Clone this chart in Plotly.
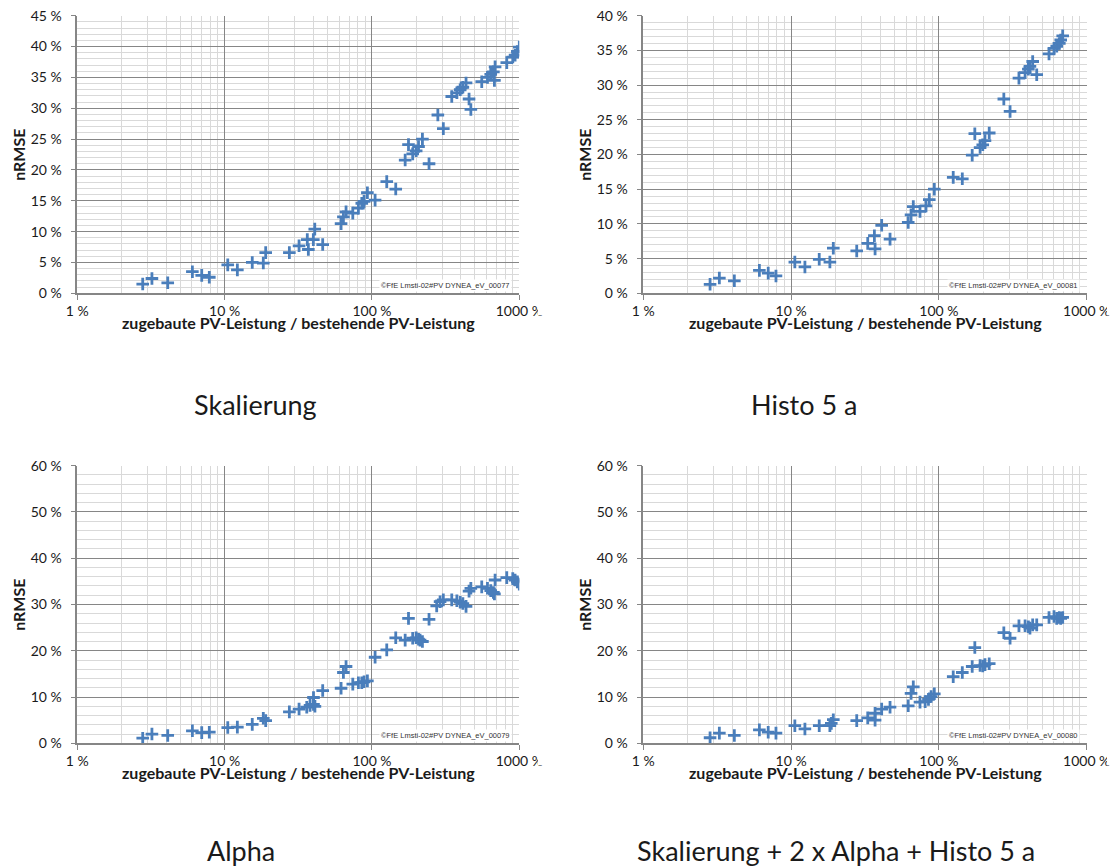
import plotly.graph_objects as go

# ---- data: nRMSE vs. added / existing PV capacity (both in %) ----
skal_x = [2.78, 3.21, 4.11, 6.04, 6.99, 7.87, 10.5, 12.2, 15.4, 18.3, 19.0, 27.5, 32.0,
          37.0, 36.4, 40.0, 40.9, 46.3, 61.7, 64.0, 66.7, 74.1, 80.9, 85.3, 88.4, 93.1,
          105, 126, 145, 168, 177, 189, 199.5, 207, 220, 244, 280, 305, 348, 377, 397,
          414, 435, 456, 469, 556, 608, 640, 667, 685, 678, 822, 903, 936, 970, 1000]
skal_y = [1.5, 2.4, 1.7, 3.5, 2.9, 2.6, 4.6, 3.8, 5.0, 4.9, 6.6, 6.6, 7.7,
          7.1, 8.7, 8.7, 10.4, 7.9, 11.3, 12.4, 13.2, 13.0, 13.8, 14.6, 14.9, 16.3,
          15.1, 18.1, 16.9, 21.6, 24.1, 22.6, 23.1, 23.8, 25.0, 21.0, 28.9, 26.7, 31.9, 32.5, 33.0,
          33.4, 34.1, 31.5, 29.8, 34.3, 35.0, 35.5, 35.9, 36.7, 34.5, 37.4, 38.3, 38.6, 39.2, 39.9]

histo_x = [2.83, 3.27, 4.13, 6.1, 7.0, 7.9, 10.6, 12.4, 15.5, 18.3, 19.3, 27.8, 33.0,
           36.6, 37.0, 41.0, 46.7, 62.0, 64.8, 67.1, 74.5, 81.8, 86.1, 93.1,
           125, 144, 168, 175, 190, 198, 205, 219, 275, 303, 348, 383, 403, 413, 431,
           459, 556, 601, 627, 653, 667, 688]
histo_y = [1.3, 2.2, 1.8, 3.3, 2.9, 2.5, 4.5, 3.8, 4.9, 4.5, 6.5, 6.1, 7.2,
           8.3, 6.4, 9.8, 7.8, 10.2, 11.3, 12.5, 11.8, 12.6, 13.5, 15.0,
           16.7, 16.5, 19.9, 23.0, 21.0, 21.4, 22.0, 23.1, 28.0, 26.2, 31.0, 31.8, 32.3, 32.7, 33.4,
           31.5, 34.5, 35.3, 35.6, 36.0, 36.5, 37.1]

alpha_x = [2.78, 3.21, 4.11, 6.04, 6.99, 7.87, 10.5, 12.2, 15.4, 18.3, 19.0, 27.5, 32.0,
           36.1, 38.0, 40.1, 41.0, 40.1, 46.3, 61.7, 64.0, 66.7, 74.1, 80.9, 85.3, 88.4, 93.1,
           105, 126, 145, 168, 177, 189, 199.5, 207, 212, 220, 244, 275, 290, 305, 348, 377,
           397, 414, 435, 456, 469, 556, 608, 640, 667, 685, 678, 822, 903, 936, 970, 1000]
alpha_y = [1.1, 2.0, 1.7, 2.7, 2.3, 2.4, 3.4, 3.5, 4.1, 5.4, 4.9, 6.8, 7.4,
           7.8, 8.2, 8.4, 8.0, 9.9, 11.4, 11.9, 15.3, 16.6, 12.8, 13.1, 13.1, 13.3, 13.5,
           18.6, 20.2, 22.8, 22.3, 27.0, 22.7, 22.8, 22.5, 22.3, 22.0, 26.8, 29.7, 30.6, 31.0, 31.0, 30.8,
           30.5, 30.2, 29.6, 32.9, 33.5, 33.8, 33.5, 33.0, 32.6, 35.3, 32.3, 35.8, 35.6, 35.3, 34.9, 34.4]

komb_x = [2.83, 3.27, 4.13, 6.1, 7.0, 7.9, 10.6, 12.4, 15.5, 18.3, 18.7, 19.3, 27.8, 33.0,
          37.0, 37.0, 41.0, 46.7, 62.0, 64.8, 67.1, 74.5, 80.7, 85.0, 88.6, 93.1,
          125, 144, 168, 175, 190, 198, 205, 219, 275, 303, 348, 383, 403, 413, 431,
          459, 556, 601, 627, 653, 667, 688]
komb_y = [1.2, 2.2, 1.7, 2.9, 2.4, 2.2, 3.8, 3.1, 3.8, 3.8, 4.3, 5.1, 4.9, 5.5,
          6.5, 5.0, 7.4, 7.8, 8.1, 10.8, 12.2, 8.9, 9.0, 9.5, 10.1, 10.7,
          14.4, 15.3, 16.6, 20.7, 16.8, 16.7, 17.0, 17.2, 23.9, 22.7, 25.4, 25.4, 25.2, 24.9, 25.6,
          25.6, 27.2, 27.4, 27.0, 27.2, 27.0, 27.2]

x_tick_vals = [1, 10, 100, 1000]
x_tick_text = ["1 %", "10 %", "100 %", "1000 %"]

captions = ["Skalierung", "Histo 5 a", "Alpha", "Skalierung + 2 x Alpha + Histo 5 a"]
stamps = ["©FfE Lmsti-02#PV DYNEA_eV_00077", "©FfE Lmsti-02#PV DYNEA_eV_00081",
          "©FfE Lmsti-02#PV DYNEA_eV_00079", "©FfE Lmsti-02#PV DYNEA_eV_00080"]
y_max = [45, 40, 60, 60]
y_major = [5, 5, 10, 10]
y_minor = [1, 1, 2, 2]

series = [(skal_x, skal_y), (histo_x, histo_y), (alpha_x, alpha_y), (komb_x, komb_y)]

# ---- layout geometry (pixels) ----
W, H = 1113, 866
x_dom_px = [(77.3, 519.3), (643.3, 1086.7), (77.3, 519.3), (643.3, 1086.7)]
y_dom_px = [(15.7, 293.3), (15.7, 293.3), (465.7, 743.3), (465.7, 743.3)]
caption_px = [(255, 404), (804, 404), (241, 850), (836, 850)]
clip_x_px = [538, 1107, 538, 1107]

GRID_MAJOR = "#868686"
GRID_MINOR = "#d9d9d9"
MARK = "#4A7EBB"
TXT = "#1a1a1a"
CAL = "Lato, Calibri, sans-serif"

minor_x = [m * 10 ** d for d in range(3) for m in range(2, 10)]

fig = go.Figure()
layout = dict(width=W, height=H, margin=dict(l=0, r=0, t=0, b=0),
              paper_bgcolor="white", plot_bgcolor="white", showlegend=False)
annotations = []
shapes = []

for i, (xs, ys) in enumerate(series):
    n = "" if i == 0 else str(i + 1)
    fig.add_trace(go.Scatter(
        x=xs, y=ys, mode="markers", xaxis="x" + n, yaxis="y" + n,
        marker=dict(symbol="cross-thin", size=9, color=MARK,
                    line=dict(width=2.8, color=MARK)),
        hoverinfo="x+y"))

    x0, x1 = x_dom_px[i]
    yt, yb = y_dom_px[i]
    layout["xaxis" + n] = dict(
        type="log", range=[0, 3], domain=[x0 / W, x1 / W], anchor="y" + n,
        automargin=False,
        tickmode="array", tickvals=x_tick_vals, ticktext=x_tick_text,
        showgrid=True, gridcolor=GRID_MAJOR, gridwidth=1,
        showline=True, linecolor=GRID_MAJOR, linewidth=1.5,
        ticks="outside", ticklen=5, tickcolor=GRID_MAJOR, ticklabelstandoff=-1,
        tickfont=dict(family=CAL, size=14, color=TXT),
        minor=dict(tickmode="array", tickvals=minor_x, showgrid=True,
                   gridcolor=GRID_MINOR, gridwidth=1, ticks=""),
        zeroline=False, fixedrange=True)
    layout["yaxis" + n] = dict(
        range=[0, y_max[i]], domain=[1 - yb / H, 1 - yt / H], anchor="x" + n,
        automargin=False,
        tick0=0, dtick=y_major[i], ticksuffix=" %",
        showgrid=True, gridcolor=GRID_MAJOR, gridwidth=1,
        showline=True, linecolor=GRID_MAJOR, linewidth=1.5,
        ticks="outside", ticklen=5, tickcolor=GRID_MAJOR, ticklabelstandoff=6,
        tickfont=dict(family=CAL, size=14, color=TXT),
        minor=dict(dtick=y_minor[i], showgrid=True, gridcolor=GRID_MINOR,
                   gridwidth=1, ticks=""),
        zeroline=False, fixedrange=True)

    # axis titles
    annotations.append(dict(
        text="<b>nRMSE</b>", xref="paper", yref="paper",
        x=(x0 - 59) / W, y=1 - (yt + yb) / 2 / H, textangle=-90,
        showarrow=False, xanchor="center", yanchor="middle",
        font=dict(family=CAL, size=16, color=TXT)))
    annotations.append(dict(
        text="<b>zugebaute PV-Leistung / bestehende PV-Leistung</b>",
        xref="paper", yref="paper", x=(x0 + x1) / 2 / W, y=1 - (yb + 29) / H,
        showarrow=False, xanchor="center", yanchor="middle",
        font=dict(family=CAL, size=16, color=TXT)))
    # copyright stamp inside the plot area
    annotations.append(dict(
        text=stamps[i], xref="paper", yref="paper",
        x=(x1 - 7) / W, y=1 - (yb - 8) / H, showarrow=False,
        xanchor="right", yanchor="middle", bgcolor="white", borderpad=1,
        font=dict(family="Liberation Sans, Arial, sans-serif", size=7.5, color="#333333")))
    # caption below each chart
    cx, cy = caption_px[i]
    annotations.append(dict(
        text=captions[i], xref="paper", yref="paper",
        x=cx / W, y=1 - cy / H, showarrow=False, xanchor="center", yanchor="middle",
        font=dict(family=CAL, size=27, color=TXT)))
    # the chart image ends just right of the last tick label
    shapes.append(dict(
        type="rect", xref="paper", yref="paper", layer="above",
        x0=clip_x_px[i] / W, x1=(clip_x_px[i] + 40) / W,
        y0=1 - (yb + 22) / H, y1=1 - (yb + 4) / H,
        fillcolor="white", line=dict(width=0)))

layout["annotations"] = annotations
layout["shapes"] = shapes
fig.update_layout(**layout)
fig.write_html("out.html")
